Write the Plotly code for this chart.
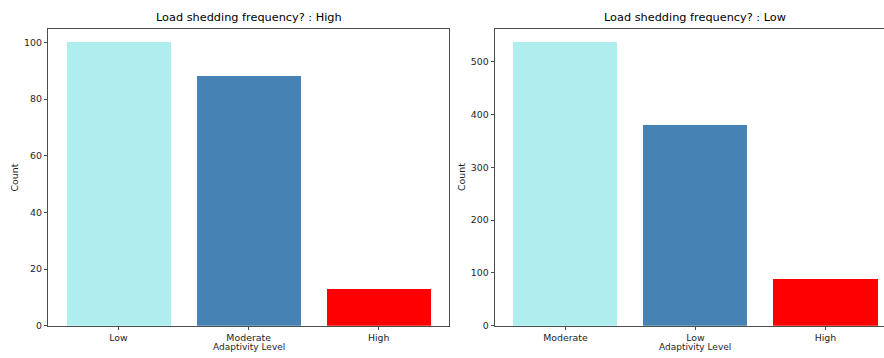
import plotly.graph_objects as go

# Data
left_categories = ["Low", "Moderate", "High"]
left_counts = [100, 88, 13]
right_categories = ["Moderate", "Low", "High"]
right_counts = [537, 380, 88]
bar_colors = ["#AFEEEE", "#4682B4", "#FF0000"]
left_title = "Load shedding frequency? : High"
right_title = "Load shedding frequency? : Low"
x_label = "Adaptivity Level"
y_label = "Count"

W, H = 884, 358
FONT = "DejaVu Sans"
TXT = "#1e1e1e"
LINE = "#4d4d4d"

fig = go.Figure()
fig.add_trace(go.Bar(x=list(range(len(left_categories))), y=left_counts,
                     marker=dict(color=bar_colors, line=dict(width=0)),
                     width=0.8, xaxis="x", yaxis="y", showlegend=False))
fig.add_trace(go.Bar(x=list(range(len(right_categories))), y=right_counts,
                     marker=dict(color=bar_colors, line=dict(width=0)),
                     width=0.8, xaxis="x2", yaxis="y2", showlegend=False))

def px_x(v):
    return v / W

def px_y(v):
    return 1 - v / H

ydom = [px_y(330.3), px_y(29.3)]
tickfont = dict(family=FONT, size=9.4, color=TXT)
common_x = dict(showgrid=False, zeroline=False, showline=True, linecolor=LINE,
                linewidth=1, ticks="outside", ticklen=3.5, tickcolor=LINE,
                tickfont=tickfont, tickmode="array")
common_y = dict(showgrid=False, zeroline=False, showline=True, linecolor=LINE,
                linewidth=1, ticks="outside", ticklen=3.5, tickcolor=LINE,
                tickfont=tickfont)

fig.update_layout(
    width=W, height=H, autosize=False, margin=dict(l=0, r=0, t=0, b=0),
    paper_bgcolor="white", plot_bgcolor="white",
    bargap=0,
    xaxis=dict(domain=[px_x(48.3), px_x(449)], range=[-0.54, 2.54],
               tickvals=list(range(3)), ticktext=left_categories,
               mirror=True, anchor="y", **common_x),
    yaxis=dict(domain=ydom, range=[0, 104.8], tickvals=[0, 20, 40, 60, 80, 100],
               mirror=True, anchor="x", **common_y),
    xaxis2=dict(domain=[px_x(495), 1.0], range=[-0.542, 2.45],
                tickvals=list(range(3)), ticktext=right_categories,
                mirror=True, anchor="y2", **common_x),
    yaxis2=dict(domain=ydom, range=[0, 562.4], tickvals=[0, 100, 200, 300, 400, 500],
                mirror=False, anchor="x2", **common_y),
)

ann = []
titlefont = dict(family=FONT, size=11.3, color="#000000")
labfont = dict(family=FONT, size=9.4, color=TXT)
xlabfont = dict(family=FONT, size=9.0, color=TXT)
ann.append(dict(text=left_title, x=px_x(248.5), y=px_y(18), xref="paper", yref="paper",
                showarrow=False, font=titlefont, xanchor="center", yanchor="middle"))
ann.append(dict(text=right_title, x=px_x(695), y=px_y(18), xref="paper", yref="paper",
                showarrow=False, font=titlefont, xanchor="center", yanchor="middle"))
ann.append(dict(text=x_label, x=px_x(248.5), y=px_y(358), xref="paper", yref="paper",
                showarrow=False, font=xlabfont, xanchor="center", yanchor="bottom",
                borderpad=0))
ann.append(dict(text=x_label, x=px_x(695), y=px_y(358), xref="paper", yref="paper",
                showarrow=False, font=xlabfont, xanchor="center", yanchor="bottom",
                borderpad=0))
ann.append(dict(text=y_label, x=px_x(14), y=px_y(180), xref="paper", yref="paper",
                showarrow=False, font=labfont, textangle=-90, xanchor="center", yanchor="middle"))
ann.append(dict(text=y_label, x=px_x(461.5), y=px_y(180), xref="paper", yref="paper",
                showarrow=False, font=labfont, textangle=-90, xanchor="center", yanchor="middle"))
fig.update_layout(annotations=ann)

fig.write_html("out.html",
               config=dict(displayModeBar=False, responsive=False, staticPlot=True),
               post_script="document.body.style.margin='0';document.body.style.padding='0';document.body.style.overflow='hidden';")
